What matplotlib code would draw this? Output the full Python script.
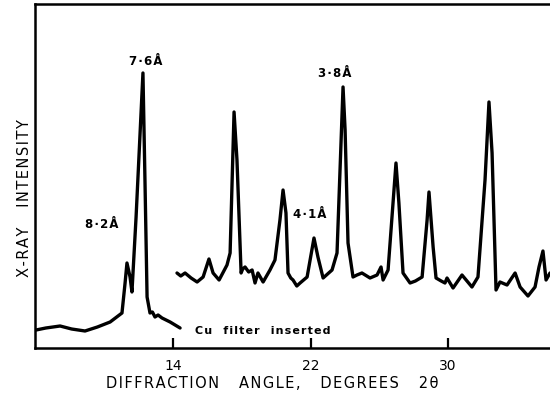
import matplotlib.pyplot as plt

#------------------------------------------- Data -------------------------------------#
# Trace with Cu filter inserted (low angle part)
angle_cu = [6.03, 6.60, 7.43, 8.10, 8.88, 9.60, 10.34, 11.03, 11.21, 11.32, 11.50, 11.61,
            11.85, 12.25, 12.37, 12.49, 12.66, 12.80, 12.95, 13.13, 13.36, 13.83, 14.41]
counts_cu = [18, 20, 22, 19, 17, 21, 26, 35, 65, 85, 71, 56,
             131, 275, 165, 51, 35, 36, 31, 33, 30, 26, 20]

# Trace without filter (high angle part)
angle_main = [14.23, 14.45, 14.70, 15.05, 15.40, 15.75, 16.09, 16.33, 16.68, 17.14, 17.32, 17.55,
              17.72, 17.96, 18.05, 18.19, 18.40, 18.60, 18.77, 18.94, 19.24, 19.64, 19.93, 20.22,
              20.40, 20.57, 20.69, 20.85, 20.98, 21.20, 21.39, 21.80, 22.20, 22.43, 22.73, 23.25,
              23.54, 23.89, 24.01, 24.18, 24.47, 24.70, 24.99, 25.46, 25.87, 26.10, 26.22,
              26.51, 26.97, 27.14, 27.38, 27.79, 28.10, 28.49, 28.78, 28.89, 29.13, 29.30,
              29.60, 29.82, 29.94, 30.29, 30.81, 31.39, 31.74, 32.15, 32.38, 32.56, 32.79,
              33.02, 33.43, 33.90, 34.19, 34.65, 35.06, 35.29, 35.52, 35.70, 35.93]
counts_main = [75, 72, 75, 70, 66, 71, 89, 75, 68, 83, 95, 236,
               188, 75, 79, 81, 76, 78, 65, 75, 66, 78, 88, 128,
               158, 135, 75, 70, 68, 62, 65, 71, 110, 91, 70, 78,
               95, 261, 218, 105, 71, 73, 75, 70, 73, 81, 68,
               78, 185, 145, 75, 65, 67, 71, 128, 156, 101, 70,
               67, 65, 70, 60, 73, 61, 71, 168, 246, 195, 58,
               66, 63, 75, 61, 52, 61, 81, 97, 68, 75]

tick_angles = [14, 22, 30]

# peak labels: (text, angle, height)
peak_labels = [("7·6Å", 12.40, 280), ("8·2Å", 9.87, 117),
               ("4·1Å", 21.97, 127), ("3·8Å", 23.42, 268)]


def spaced(s, gap="\u200a"):
    # crude letter spacing, like the old stencil lettering
    return gap.join(s)


#--------------------------------------------- Plot -----------------------------------#
fig = plt.figure(figsize=(5.5, 3.95), dpi=100)
ax = fig.add_axes([35 / 550, 1 - 348 / 395, 1 - 35 / 550, 344 / 395])

line_kw = {"color": "black", "lw": 2.4, "solid_joinstyle": "round", "solid_capstyle": "round"}
ax.plot(angle_cu, counts_cu, **line_kw)
ax.plot(angle_main, counts_main, **line_kw)

ax.set_xlim(5.97, 35.93)
ax.set_ylim(0, 344)
ax.set_xticks(tick_angles)
ax.set_xticklabels([str(t) for t in tick_angles], fontsize=10)
ax.set_yticks([])
ax.tick_params(axis="x", direction="in", length=7, width=1.6, pad=8)
ax.spines["right"].set_visible(False)
for s in ["left", "bottom", "top"]:
    ax.spines[s].set_linewidth(1.8)

for txt, xa, ya in peak_labels:
    ax.text(xa, ya, spaced(txt), ha="center", va="bottom", fontsize=8.5, fontweight="bold")

ax.text(15.28, 17, spaced("Cu  filter  inserted"), ha="left", va="center",
        fontsize=8, fontweight="bold")

fig.text(272 / 550, 1 - 383 / 395, spaced("DIFFRACTION   ANGLE,   DEGREES   2θ"),
         ha="center", va="center", fontsize=10.5)
fig.text(25 / 550, 1 - 198 / 395, spaced("X-RAY   INTENSITY"), rotation=90,
         ha="center", va="center", fontsize=10.5)

fig.savefig("out.png", dpi=100)
